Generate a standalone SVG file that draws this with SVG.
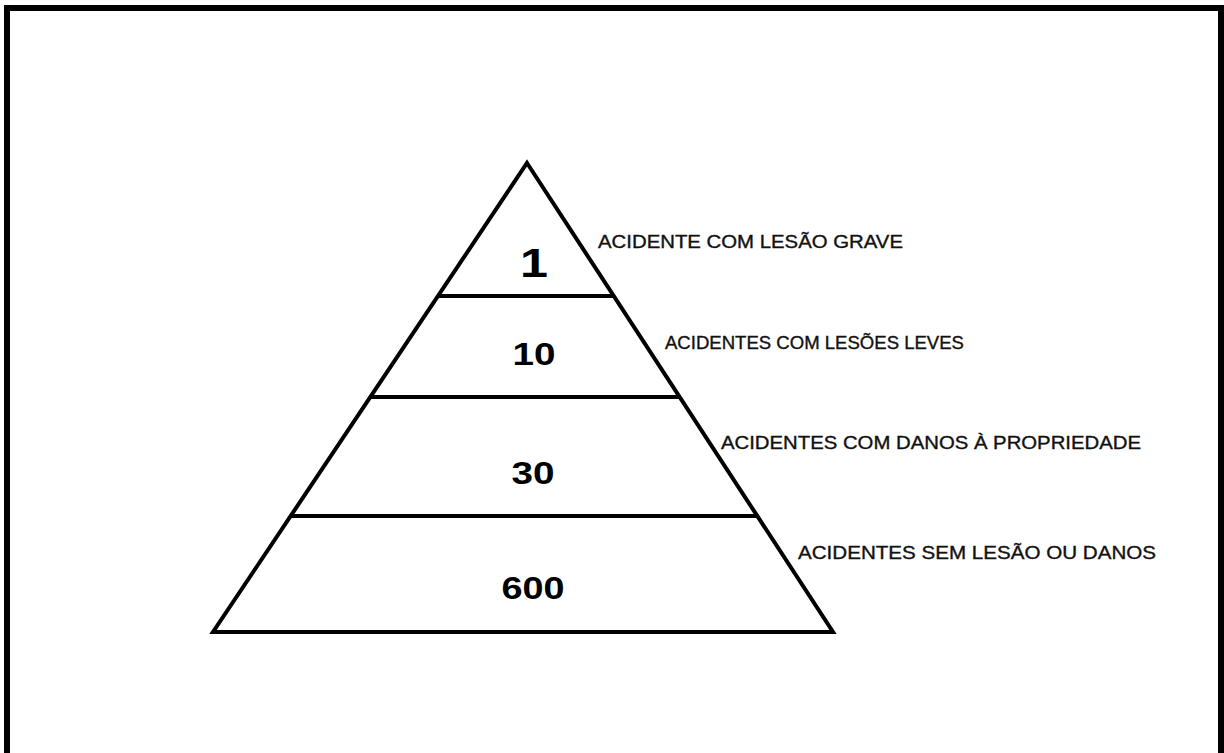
<svg xmlns="http://www.w3.org/2000/svg" width="1224" height="753" viewBox="0 0 1224 753">
  <style>
    .frame { fill: none; stroke: #000; stroke-width: 6; }
    .edge { fill: none; stroke: #000; stroke-width: 4; stroke-linejoin: miter; stroke-linecap: butt; }
    .num { font-family: "Liberation Sans", Arial, sans-serif; font-weight: bold; fill: #000; text-anchor: middle; }
    .lbl { font-family: "Liberation Sans", Arial, sans-serif; font-size: 18px; fill: #111; stroke: #111; stroke-width: 0.35; }
  </style>
  <rect width="1224" height="753" fill="#fff"/>
  <!-- outer frame (bottom edge runs off the canvas) -->
  <rect class="frame" x="7" y="8" width="1214" height="800"/>

  <!-- pyramid outline -->
  <g id="pyramid">
    <polygon class="edge" points="527,163 833,632 213,632"/>
  </g>

  <g id="connectors">
    <line class="edge" x1="438" y1="296" x2="614" y2="296"/>
    <line class="edge" x1="370" y1="397" x2="680" y2="397"/>
    <line class="edge" x1="291" y1="516" x2="757" y2="516"/>
  </g>

  <g id="tier1">
    <text class="num" x="534" y="277" font-size="41" textLength="28" lengthAdjust="spacingAndGlyphs">1</text>
    <text class="lbl" x="598" y="248" textLength="305" lengthAdjust="spacingAndGlyphs">ACIDENTE COM LESÃO GRAVE</text>
  </g>

  <g id="tier2">
    <text class="num" x="534" y="365" font-size="31" textLength="43" lengthAdjust="spacingAndGlyphs">10</text>
    <text class="lbl" x="665" y="349" textLength="299" lengthAdjust="spacingAndGlyphs">ACIDENTES COM LESÕES LEVES</text>
  </g>

  <g id="tier3">
    <text class="num" x="533" y="484" font-size="31" textLength="43" lengthAdjust="spacingAndGlyphs">30</text>
    <text class="lbl" x="721" y="449" textLength="420" lengthAdjust="spacingAndGlyphs">ACIDENTES COM DANOS À PROPRIEDADE</text>
  </g>

  <g id="tier4">
    <text class="num" x="533" y="599" font-size="31" textLength="63" lengthAdjust="spacingAndGlyphs">600</text>
    <text class="lbl" x="798" y="559" textLength="358" lengthAdjust="spacingAndGlyphs">ACIDENTES SEM LESÃO OU DANOS</text>
  </g>
</svg>
